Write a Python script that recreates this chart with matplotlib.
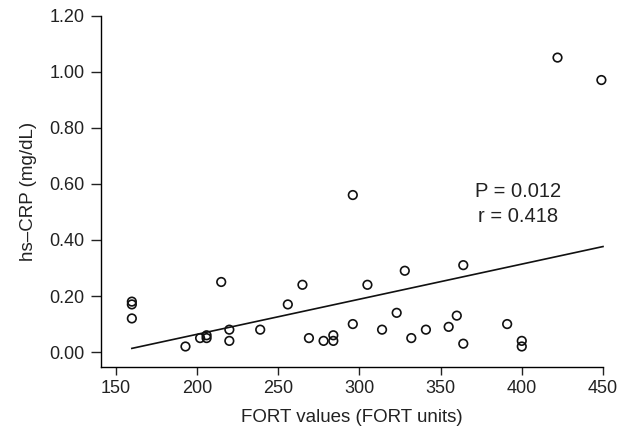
import numpy as np
import matplotlib
matplotlib.use("Agg")
import matplotlib.pyplot as plt

plt.rcParams['font.family'] = ['Liberation Sans', 'DejaVu Sans']

fort = [160, 160, 160, 193, 202, 206, 206, 215, 220, 220, 239, 256, 265, 269,
        278, 284, 284, 296, 296, 305, 314, 323, 328, 332, 341, 355, 360, 364,
        364, 391, 400, 400, 422, 449]
crp = [0.18, 0.17, 0.12, 0.02, 0.05, 0.06, 0.05, 0.25, 0.08, 0.04, 0.08, 0.17,
       0.24, 0.05, 0.04, 0.06, 0.04, 0.56, 0.10, 0.24, 0.08, 0.14, 0.29, 0.05,
       0.08, 0.09, 0.13, 0.31, 0.03, 0.10, 0.04, 0.02, 1.05, 0.97]
fit_x = [160, 450]
xticks = [150, 200, 250, 300, 350, 400, 450]
yticks = [0.0, 0.2, 0.4, 0.6, 0.8, 1.0, 1.2]
annot_lines = ["P = 0.012", "r = 0.418"]

fig = plt.figure(figsize=(6.28, 4.37), dpi=100)
ax = fig.add_axes([0.1608, 0.1609, 0.7994, 0.8036])

ax.scatter(fort, crp, s=38, facecolors='none', edgecolors='#111111', linewidths=1.2,
           zorder=3, clip_on=False)
slope, intercept = np.polyfit(fort, crp, 1)
fx = np.array(fit_x)
ax.plot(fx, slope * fx + intercept, color='#111111', lw=1.2, clip_on=False)

ax.set_xlim(141, 450)
ax.set_ylim(-0.052, 1.2)
ax.set_xticks(xticks)
ax.set_yticks(yticks)
ax.set_yticklabels([f"{v:.2f}" for v in yticks])
ax.tick_params(direction='out', length=6, width=1, labelsize=13, colors='#222222')
ax.tick_params(axis='y', length=7, pad=5)
for s in ['top', 'right']:
    ax.spines[s].set_visible(False)
for s in ['left', 'bottom']:
    ax.spines[s].set_linewidth(1)
ax.set_xlabel("FORT values (FORT units)", fontsize=13.5, color='#222222', labelpad=9)
ax.set_ylabel("hs\u2013CRP (mg/dL)", fontsize=13.5, color='#222222', labelpad=9)
ax.text(398, 0.574, annot_lines[0], fontsize=14.5, ha='center', va='center', color='#222222')
ax.text(398, 0.483, annot_lines[1], fontsize=14.5, ha='center', va='center', color='#222222')

fig.savefig("out.png", dpi=100)
